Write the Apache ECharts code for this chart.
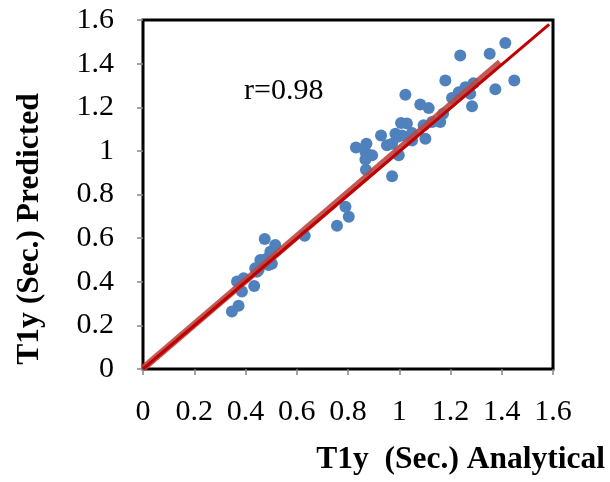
<!DOCTYPE html>
<html>
<head>
<meta charset="utf-8">
<script src="https://cdn.jsdelivr.net/npm/echarts@6/dist/echarts.min.js"></script>
<style>html,body{margin:0;padding:0;background:#fff}#c{width:610px;height:482px}</style>
</head>
<body>
<div id="c"></div>
<script>
var analytical = [0.347,0.373,0.367,0.393,0.386,0.434,0.438,0.458,0.475,0.490,0.503,0.497,0.516,0.484,0.451,0.501,0.445,0.631,0.757,0.790,0.803,0.831,0.872,0.868,0.894,0.868,0.870,0.929,0.952,0.972,0.972,0.985,0.998,0.991,1.011,1.007,1.024,1.030,1.050,1.050,1.082,1.115,1.095,1.102,1.128,1.160,1.171,1.180,1.206,1.232,1.238,1.258,1.277,1.284,1.290,1.353,1.375,1.414,1.449];
var predicted  = [0.264,0.290,0.401,0.416,0.355,0.381,0.462,0.500,0.596,0.477,0.482,0.538,0.568,0.507,0.454,0.530,0.446,0.611,0.657,0.744,0.698,1.015,1.033,0.995,0.980,0.960,0.914,1.071,1.026,0.884,1.033,1.079,0.980,1.064,1.071,1.128,1.257,1.125,1.082,1.048,1.213,1.196,1.117,1.056,1.132,1.132,1.170,1.323,1.242,1.269,1.437,1.292,1.262,1.205,1.310,1.445,1.282,1.495,1.323];
var trendLine = [[0, 0.003], [1.394, 1.406]];
var equalityLine = [[0, 0], [1.585, 1.58]];
var tickValues = [0, 0.2, 0.4, 0.6, 0.8, 1, 1.2, 1.4, 1.6];
var xName = 'T1y  (Sec.) Analytical';
var yName = 'T1y (Sec.) Predicted';
var rText = 'r=0.98';

var points = analytical.map(function (v, i) { return [v, predicted[i]]; });
var font = '"Liberation Serif", "Times New Roman", serif';
function fmt(v) { return String(Math.round(v * 10) / 10); }

var chart = echarts.init(document.getElementById('c'), null, {renderer: 'canvas'});
chart.setOption({
  animation: false,
  grid: {left: 143, right: 57, top: 20, bottom: 113, show: true, borderColor: '#000', borderWidth: 3, backgroundColor: '#fff'},
  xAxis: {
    type: 'value', min: 0, max: 1.6, interval: 0.2,
    axisLine: {show: false},
    axisTick: {show: true, length: 6, inside: false, lineStyle: {color: '#868686', width: 1.5}},
    splitLine: {show: false},
    axisLabel: {margin: 28, fontFamily: font, fontSize: 30, color: '#000', formatter: fmt}
  },
  yAxis: {
    type: 'value', min: 0, max: 1.6, interval: 0.2,
    axisLine: {show: false},
    axisTick: {show: true, length: 6, inside: false, lineStyle: {color: '#868686', width: 1.5}},
    splitLine: {show: false},
    axisLabel: {margin: 29, fontFamily: font, fontSize: 30, color: '#000', formatter: fmt}
  },
  series: [
    {type: 'scatter', data: points, symbolSize: 12, itemStyle: {color: '#4F81BD', opacity: 1}, z: 2},
    {type: 'line', data: trendLine, showSymbol: false, symbol: 'none', lineStyle: {color: '#BC4743', width: 7, opacity: 0.9}, z: 3},
    {type: 'line', data: equalityLine, showSymbol: false, symbol: 'none', lineStyle: {color: '#C00000', width: 3}, z: 4}
  ],
  graphic: [
    {type: 'text', left: 244, top: 76, style: {text: rText, font: '30px ' + font, fill: '#000'}},
    {type: 'text', right: 5, top: 444, style: {text: xName, font: 'bold 31.5px ' + font, fill: '#000'}},
    {type: 'text', x: 30, y: 229, rotation: Math.PI / 2, style: {text: yName, font: 'bold 31.5px ' + font, fill: '#000', align: 'center', verticalAlign: 'middle'}}
  ]
});
</script>
</body>
</html>
